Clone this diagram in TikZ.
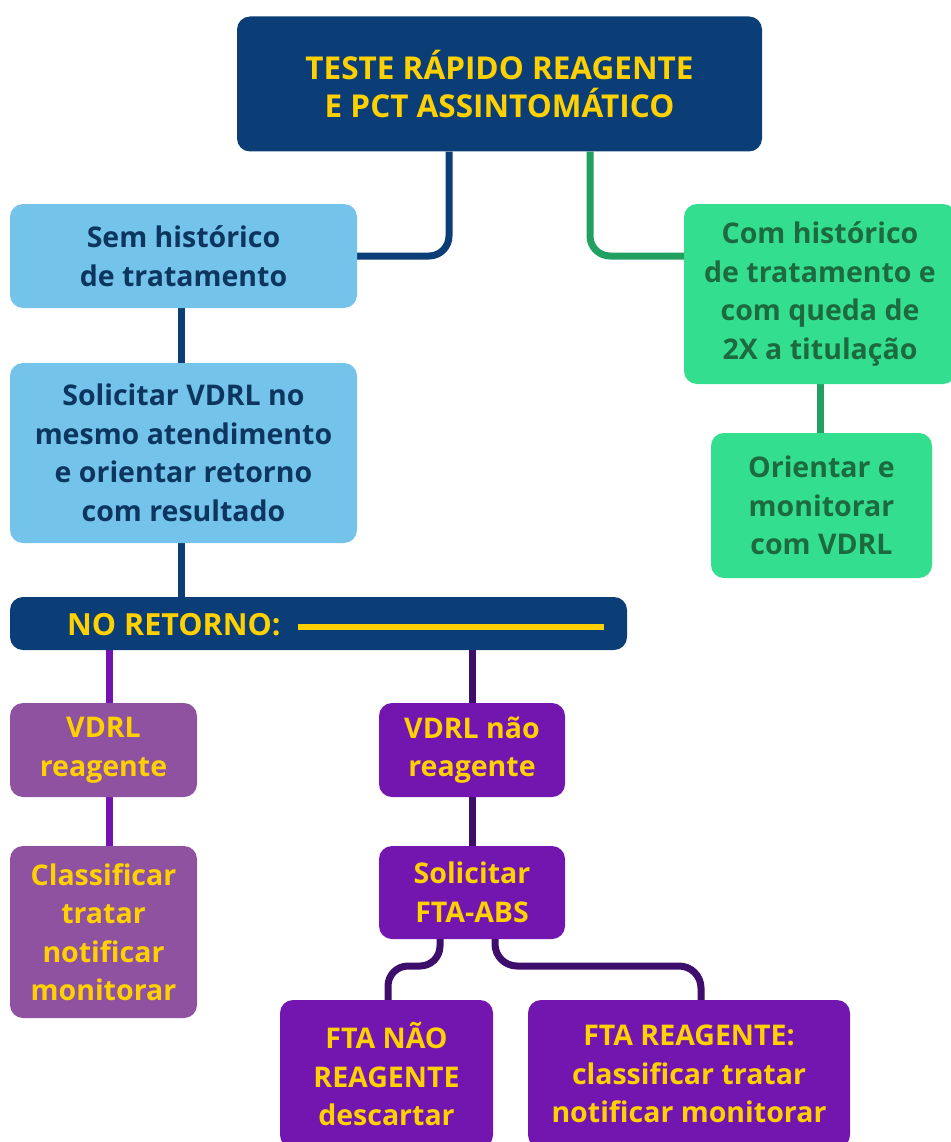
\documentclass[tikz,border=0pt]{standalone}
\usepackage{fontspec}
\setmainfont{Open Sans}
\usetikzlibrary{backgrounds}
\definecolor{navy}{HTML}{0B3D77}
\definecolor{ylw}{HTML}{FFD100}
\definecolor{lblue}{HTML}{74C3EA}
\definecolor{btext}{HTML}{0C355F}
\definecolor{gbox}{HTML}{33DF8F}
\definecolor{gtext}{HTML}{1E6A40}
\definecolor{gline}{HTML}{21A062}
\definecolor{mauve}{HTML}{8E52A1}
\definecolor{purp}{HTML}{7216AF}
\definecolor{dpline}{HTML}{3D0E6C}
\definecolor{lpline}{HTML}{7413B0}
\tikzset{
  box/.style={rounded corners=13pt, inner sep=0pt, align=center,
    font=\fontsize{28.5}{38.5}\selectfont\bfseries},
  conn/.style={line width=7pt},
}
\begin{document}
\begin{tikzpicture}[x=1pt,y=-1pt]
\useasboundingbox (0,0) rectangle (950,1142);
% nodes
\node[box, fill=navy, text=ylw, minimum width=525pt, minimum height=135pt,
  font=\fontsize{31.5}{38}\selectfont\bfseries] (top) at (499.5,84)
  {TESTE RÁPIDO REAGENTE\\E PCT ASSINTOMÁTICO};
\node[box, fill=lblue, text=btext, minimum width=347pt, minimum height=104pt] (sem) at (183.5,256)
  {Sem histórico\\de tratamento};
\node[box, fill=lblue, text=btext, minimum width=347pt, minimum height=180pt] (sol) at (183.5,453)
  {Solicitar VDRL no\\mesmo atendimento\\e orientar retorno\\com resultado};
\node[box, fill=gbox, text=gtext, minimum width=272pt, minimum height=180pt] (com) at (820,294)
  {Com histórico\\de tratamento e\\com queda de\\2X a titulação};
\node[box, fill=gbox, text=gtext, minimum width=221pt, minimum height=145pt] (ori) at (821.5,505.5)
  {Orientar e\\monitorar\\com VDRL};
\node[box, fill=navy, minimum width=617pt, minimum height=53pt] (ret) at (318.5,623.5) {};
\node[anchor=west, text=ylw, inner sep=0pt, font=\fontsize{30.5}{38.5}\selectfont\bfseries] (rettxt) at (67,625) {NO RETORNO:};
\coordinate (yl1) at (298,627);
\coordinate (yl2) at (604,627);
\draw[ylw, line width=6pt] (yl1) -- (yl2);
\node[box, fill=mauve, text=ylw, minimum width=187pt, minimum height=94pt] (vr) at (103.5,750)
  {VDRL\\reagente};
\node[box, fill=mauve, text=ylw, minimum width=187pt, minimum height=172pt] (cl) at (103.5,932)
  {Classificar\\tratar\\notificar\\monitorar};
\node[box, fill=purp, text=ylw, minimum width=186pt, minimum height=94pt] (vnr) at (472,750)
  {VDRL não\\reagente};
\node[box, fill=purp, text=ylw, minimum width=186pt, minimum height=93pt] (fta) at (472,892.5)
  {Solicitar\\FTA-ABS};
\node[box, fill=purp, text=ylw, minimum width=213pt, minimum height=148pt] (fn) at (386.5,1074)
  {FTA NÃO\\REAGENTE\\descartar};
\node[box, fill=purp, text=ylw, minimum width=322pt, minimum height=148pt] (fr) at (689,1074)
  {FTA REAGENTE:\\classificar tratar\\notificar monitorar};
% connectors
\begin{scope}[on background layer]
\draw[conn, navy, rounded corners=20pt] (top.south -| 449,0) |- (sem.east);
\draw[conn, gline, rounded corners=20pt] (top.south -| 590,0) |- (com.west |- sem.east);
\draw[conn, navy] (sem.south -| 181,0) -- (sol.north -| 181,0);
\draw[conn, navy] (sol.south -| 181,0) -- (ret.north -| 181,0);
\draw[conn, gline] (com.south -| 820,0) -- (ori.north -| 820,0);
\draw[conn, lpline] (ret.south -| 109,0) -- (vr.north -| 109,0);
\draw[conn, lpline] (vr.south -| 109,0) -- (cl.north -| 109,0);
\draw[conn, dpline] (ret.south -| 472,0) -- (vnr.north);
\draw[conn, dpline] (vnr.south) -- (fta.north);
\draw[conn, dpline, rounded corners=20pt] (fta.south -| 440,0) -- (440,966) -- (388,966) -- (fn.north -| 388,0);
\draw[conn, dpline, rounded corners=22pt] (fta.south -| 495,0) -- (495,966) -- (701,966) -- (fr.north -| 701,0);
\end{scope}
\end{tikzpicture}
\end{document}
